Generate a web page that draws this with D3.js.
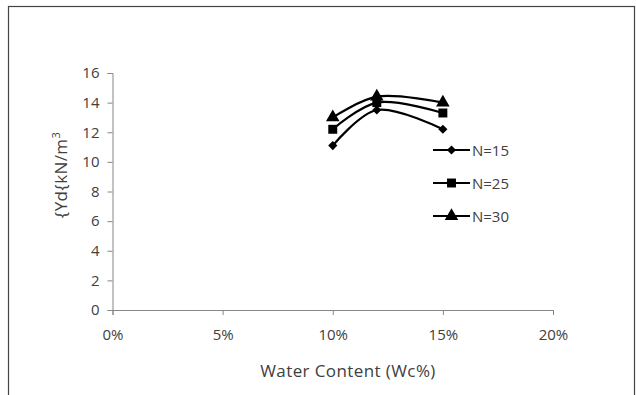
<!DOCTYPE html>
<html>
<head>
<meta charset="utf-8">
<script src="https://cdn.jsdelivr.net/npm/d3@7"></script>
<style>
  html, body { margin: 0; padding: 0; background: #fff; }
  svg { display: block; }
  text { font-family: "Open Sans", Lato, "Liberation Sans", sans-serif; fill: #404040; }
</style>
</head>
<body>
<svg id="chart" width="636" height="395"></svg>
<script>
// Water content (fraction) at which each series was measured
const waterContent = [0.10, 0.12, 0.15];
// Dry unit weight (kN/m³) per compaction blow count
const seriesNames = ["N=15", "N=25", "N=30"];
const n15 = [11.1, 13.5, 12.2];
const n25 = [12.2, 14.0, 13.3];
const n30 = [13.0, 14.4, 14.0];
const xTicks = [0, 0.05, 0.10, 0.15, 0.20];
const yTicks = [0, 2, 4, 6, 8, 10, 12, 14, 16];

const series = [
  { name: seriesNames[0], values: n15, marker: "diamond" },
  { name: seriesNames[1], values: n25, marker: "square" },
  { name: seriesNames[2], values: n30, marker: "triangle" }
];

const svg = d3.select("#chart");

// outer chart frame
svg.append("rect")
  .attr("x", 8.5).attr("y", 6.5)
  .attr("width", 626).attr("height", 420)
  .attr("fill", "none").attr("stroke", "#444").attr("stroke-width", 1.2);

const x = d3.scaleLinear().domain([0, 0.20]).range([112.5, 553]);
const y = d3.scaleLinear().domain([0, 16]).range([310, 73]);

const xAxis = d3.axisBottom(x).tickValues(xTicks).tickFormat(d3.format(".0%")).tickSizeOuter(0).tickSize(5).tickPadding(14);
const yAxis = d3.axisLeft(y).tickValues(yTicks).tickSizeOuter(0).tickSize(5).tickPadding(8);

const gx = svg.append("g").attr("transform", `translate(0,${y(0)})`).call(xAxis);
const gy = svg.append("g").attr("transform", `translate(${x(0)},0)`).call(yAxis);
[gx, gy].forEach(g => {
  g.selectAll("path, line").attr("stroke", "#868686");
  g.selectAll("text").attr("font-size", 15).attr("fill", "#404040")
    .style("font-family", "'Open Sans', Lato, sans-serif");
});

// axis titles
svg.append("text")
  .attr("x", 348).attr("y", 377)
  .attr("text-anchor", "middle").attr("font-size", 17).attr("letter-spacing", 0.4)
  .text("Water Content (Wc%)");

const yt = svg.append("text")
  .attr("transform", "translate(67,175) rotate(-90)")
  .attr("text-anchor", "middle").attr("font-size", 17).attr("letter-spacing", 0.4);
yt.append("tspan").text("{Yd{kN/m");
yt.append("tspan").attr("font-size", 11).attr("dy", -7).text("3");

// markers: diamond is a square turned 45°
const symbolOf = {
  diamond: d3.symbol().type(d3.symbolSquare).size(42),
  square: d3.symbol().type(d3.symbolSquare).size(80),
  triangle: d3.symbol().type(d3.symbolTriangle).size(80)
};
const rotOf = { diamond: 45, square: 0, triangle: 0 };

const line = d3.line()
  .x((d, i) => x(waterContent[i]))
  .y(d => y(d))
  .curve(d3.curveCatmullRom.alpha(0.5));

series.forEach(s => {
  svg.append("path")
    .attr("d", line(s.values))
    .attr("fill", "none").attr("stroke", "#000").attr("stroke-width", 2.2);
});
series.forEach(s => {
  svg.selectAll(null).data(s.values).enter().append("path")
    .attr("transform", (d, i) => `translate(${x(waterContent[i])},${y(d)}) rotate(${rotOf[s.marker]})`)
    .attr("d", symbolOf[s.marker]())
    .attr("fill", "#000");
});

// legend
const legendY = [150, 183, 216];
series.forEach((s, i) => {
  const g = svg.append("g").attr("transform", `translate(433,${legendY[i]})`);
  g.append("line").attr("x1", 0).attr("x2", 37).attr("y1", 0).attr("y2", 0)
    .attr("stroke", "#000").attr("stroke-width", 2.2);
  g.append("path").attr("transform", `translate(18.5,0) rotate(${rotOf[s.marker]})`)
    .attr("d", symbolOf[s.marker]()).attr("fill", "#000");
  g.append("text").attr("x", 39).attr("y", 5.5).attr("font-size", 15).text(s.name);
});
</script>
</body>
</html>
